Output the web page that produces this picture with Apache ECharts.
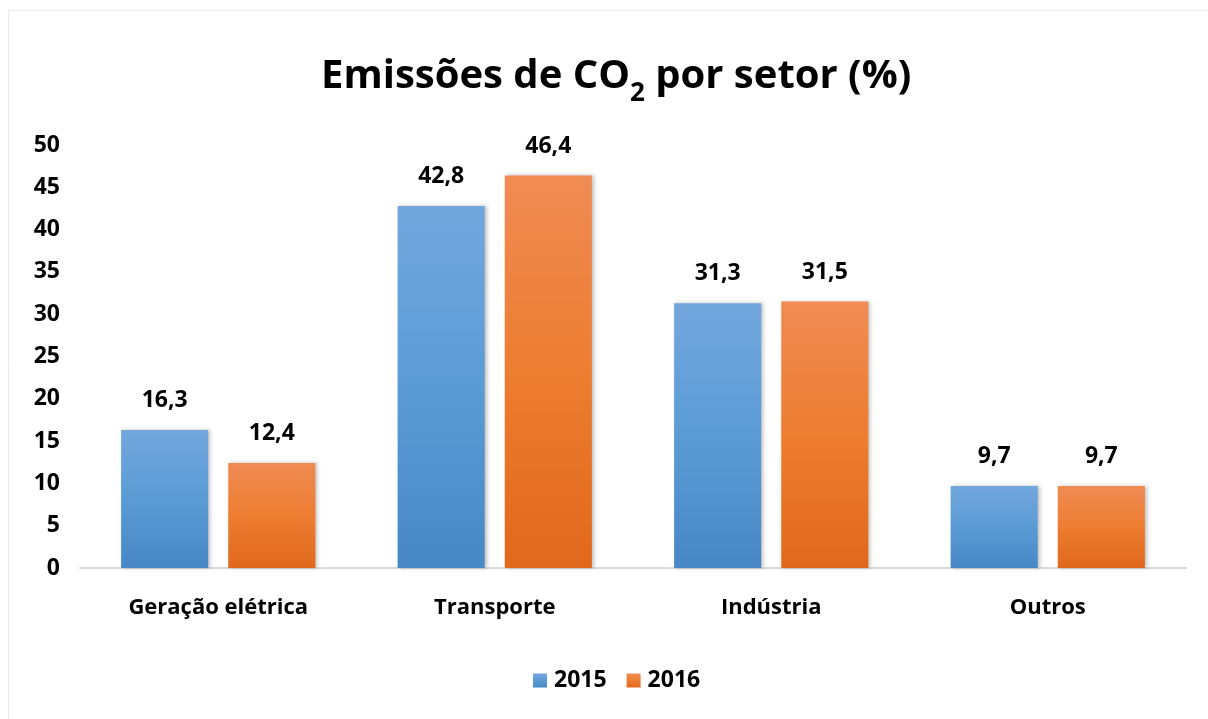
<!DOCTYPE html>
<html><head><meta charset="utf-8">
<script src="https://cdn.jsdelivr.net/npm/echarts@6/dist/echarts.min.js"></script>
<style>html,body{margin:0;padding:0;background:#fff}#c{width:1208px;height:719px}</style>
</head><body><div id="c"></div>
<script>
const categories = ['Geração elétrica', 'Transporte', 'Indústria', 'Outros'];
const values2015 = [16.3, 42.8, 31.3, 9.7];
const values2016 = [12.4, 46.4, 31.5, 9.7];
const seriesNames = ['2015', '2016'];

const FONT = '"Open Sans"';
const fmt = p => String(p.value).replace('.', ',');
function grad(top, mid, bot) {
  return new echarts.graphic.LinearGradient(0, 0, 0, 1, [
    {offset: 0, color: top}, {offset: 0.5, color: mid}, {offset: 1, color: bot}
  ]);
}
const chart = echarts.init(document.getElementById('c'));
chart.setOption({
  animation: false,
  backgroundColor: '#fff',
  graphic: [
    {type: 'line', shape: {x1: 8.5, y1: 10.5, x2: 1208, y2: 10.5}, style: {stroke: '#ececec', lineWidth: 1}},
    {type: 'line', shape: {x1: 8.5, y1: 10.5, x2: 8.5, y2: 719}, style: {stroke: '#ececec', lineWidth: 1}}
  ],
  title: {
    left: 316, top: 40,
    text: '{a|Emissões de CO}{b|2}{a| por setor (%)}',
    textStyle: {
      rich: {
        a: {fontFamily: FONT, fontWeight: 'bold', fontSize: 40, color: '#000', lineHeight: 52, verticalAlign: 'bottom'},
        b: {fontFamily: FONT, fontWeight: 'bold', fontSize: 26, color: '#000', lineHeight: 52, verticalAlign: 'bottom', padding: [0, 0, -10, 0]}
      }
    }
  },
  legend: {
    bottom: 22, left: 528,
    itemWidth: 14, itemHeight: 14, itemGap: 20,
    icon: 'rect',
    textStyle: {fontFamily: FONT, fontWeight: 'bold', fontSize: 23, color: '#000', padding: [0, 0, 0, 2]},
    data: seriesNames
  },
  grid: {left: 80, right: 22, top: 145, bottom: 151},
  xAxis: {
    type: 'category', data: categories,
    axisLine: {lineStyle: {color: '#d9d9d9', width: 2}},
    axisTick: {show: false},
    axisLabel: {fontFamily: FONT, fontWeight: 'bold', fontSize: 22, color: '#000', margin: 29}
  },
  yAxis: {
    type: 'value', min: 0, max: 50, interval: 5,
    axisLine: {show: false}, axisTick: {show: false},
    splitLine: {show: false},
    axisLabel: {fontFamily: FONT, fontWeight: 'bold', fontSize: 23, color: '#000', margin: 20}
  },
  series: [
    {
      name: seriesNames[0], type: 'bar', data: values2015,
      barWidth: '31.5%', barGap: '23%',
      itemStyle: {color: grad('#72a7dd', '#5b9bd5', '#4787c6'), shadowColor: 'rgba(0,0,0,0.25)', shadowBlur: 4, shadowOffsetX: 2},
      label: {show: true, position: 'top', distance: 18, formatter: fmt, fontFamily: FONT, fontWeight: 'bold', fontSize: 23, color: '#000'}
    },
    {
      name: seriesNames[1], type: 'bar', data: values2016,
      barWidth: '31.5%',
      itemStyle: {color: grad('#f08b54', '#ed7d31', '#e0681c'), shadowColor: 'rgba(0,0,0,0.25)', shadowBlur: 4, shadowOffsetX: 2},
      label: {show: true, position: 'top', distance: 18, formatter: fmt, fontFamily: FONT, fontWeight: 'bold', fontSize: 23, color: '#000'}
    }
  ]
});
</script></body></html>
